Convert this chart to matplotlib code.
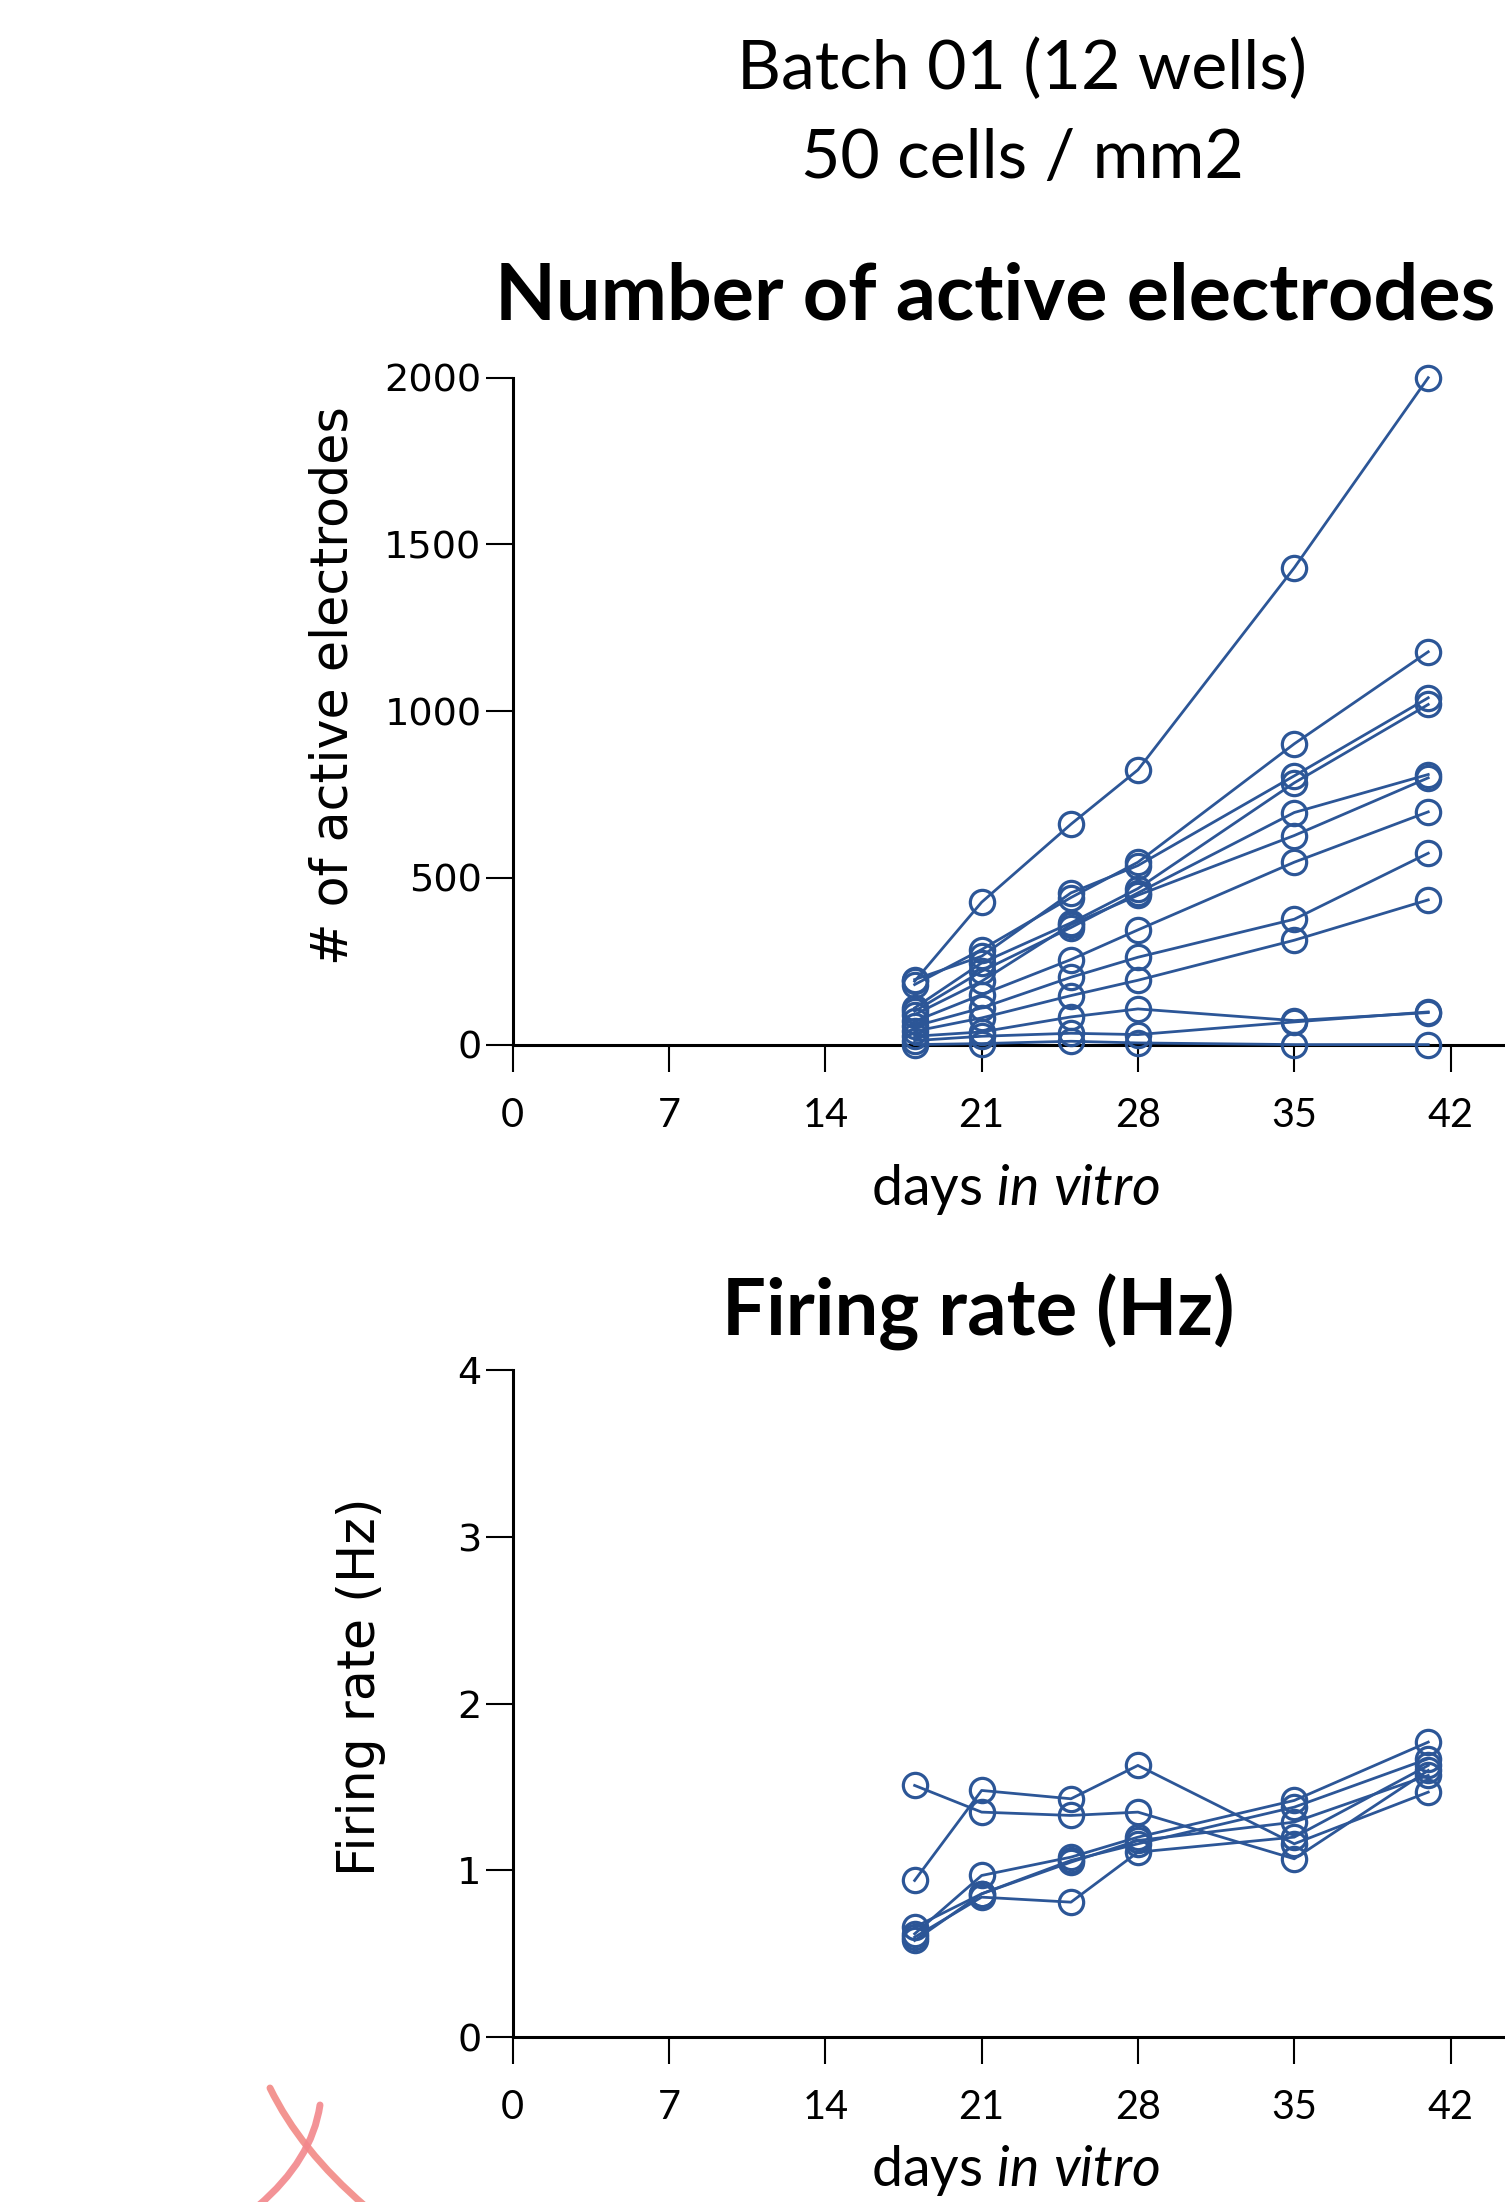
import matplotlib
matplotlib.use('Agg')
import matplotlib.pyplot as plt
from matplotlib.path import Path
from matplotlib.patches import PathPatch

# ---------------- data ----------------
days = [18, 21, 25, 28, 35, 41]
x_ticks = [0, 7, 14, 21, 28, 35, 42]

# number of active electrodes per well
ae_w01 = [190, 427, 661, 824, 1430, 2000]
ae_w02 = [180, 285, 441, 547, 902, 1178]
ae_w03 = [195, 265, 455, 537, 806, 1040]
ae_w04 = [110, 245, 365, 468, 785, 1020]
ae_w05 = [100, 220, 351, 455, 696, 810]
ae_w06 = [90, 190, 360, 448, 627, 800]
ae_w07 = [70, 150, 255, 344, 547, 698]
ae_w08 = [55, 110, 202, 262, 376, 574]
ae_w09 = [40, 80, 147, 193, 313, 434]
ae_w10 = [25, 38, 83, 107, 72, 96]
ae_w11 = [12, 25, 34, 30, 68, 98]
ae_w12 = [0, 3, 10, 5, 0, 0]
ae_yticks = [0, 500, 1000, 1500, 2000]

# firing rate (Hz) per well
fr_a = [1.51, 1.35, 1.33, 1.35, 1.07, 1.60]
fr_b = [0.94, 1.48, 1.43, 1.63, 1.16, 1.47]
fr_c = [0.62, 0.97, 1.08, 1.20, 1.42, 1.77]
fr_d = [0.60, 0.84, 0.81, 1.11, 1.20, 1.63]
fr_e = [0.66, 0.86, 1.06, 1.16, 1.38, 1.67]
fr_f = [0.58, 0.86, 1.05, 1.18, 1.29, 1.57]
fr_yticks = [0, 1, 2, 3, 4]

electrode_series = [ae_w01, ae_w02, ae_w03, ae_w04, ae_w05, ae_w06,
                    ae_w07, ae_w08, ae_w09, ae_w10, ae_w11, ae_w12]
rate_series = [fr_a, fr_b, fr_c, fr_d, fr_e, fr_f]

# ---------------- style ----------------
W, H, DPI = 1505, 2202, 100
BLUE = '#2C5697'
plt.rcParams['mathtext.fontset'] = 'custom'
plt.rcParams['mathtext.rm'] = 'Lato'
plt.rcParams['mathtext.it'] = 'Lato:italic'

fig = plt.figure(figsize=(W / DPI, H / DPI), dpi=DPI)
fig.patch.set_facecolor('white')


def px_to_fig(x, y):
    return x / W, 1 - y / H


x0 = 512.7
px_per_day = 22.33
xmax = 46
ax_left = x0 / W
ax_width = xmax * px_per_day / W


def make_axes(y_bottom_px, y_top_px):
    b = 1 - y_bottom_px / H
    h = (y_bottom_px - y_top_px) / H
    ax = fig.add_axes([ax_left, b, ax_width, h])
    ax.spines['top'].set_visible(False)
    ax.spines['right'].set_visible(False)
    for s in ('left', 'bottom'):
        ax.spines[s].set_linewidth(2.2)
        ax.spines[s].set_color('black')
    ax.tick_params(axis='both', direction='out', length=19.5, width=1.5,
                   color='black')
    ax.tick_params(axis='x', pad=18)
    ax.tick_params(axis='y', pad=3)
    ax.set_xlim(0, xmax)
    ax.set_xticks(x_ticks)
    ax.set_xticklabels([str(t) for t in x_ticks], fontfamily='Lato',
                       fontsize=28.5)
    return ax


def style_yticks(ax, ticks):
    ax.set_yticks(ticks)
    ax.set_yticklabels([str(t) for t in ticks], fontfamily='DejaVu Sans',
                       fontsize=27.5)


# ---- top panel ----
ax1 = make_axes(1044.6, 377.7)
ax1.set_ylim(0, 2000)
style_yticks(ax1, ae_yticks)
for s in electrode_series:
    ax1.plot(days, s, color=BLUE, lw=2.0, marker='o', ms=17.5,
             mfc='none', mec=BLUE, mew=2.3, clip_on=False, zorder=3)

# ---- bottom panel ----
ax2 = make_axes(2037.2, 1370.3)
ax2.set_ylim(0, 4)
style_yticks(ax2, fr_yticks)
for s in rate_series:
    ax2.plot(days, s, color=BLUE, lw=2.0, marker='o', ms=17.5,
             mfc='none', mec=BLUE, mew=2.3, clip_on=False, zorder=3)

# ---- titles and labels ----
fx, fy = px_to_fig(1022, 70)
fig.text(fx, fy, 'Batch 01 (12 wells)', ha='center', va='center',
         fontfamily='Lato', fontsize=49)
fx, fy = px_to_fig(1022, 159)
fig.text(fx, fy, '50 cells / mm2', ha='center', va='center',
         fontfamily='Lato', fontsize=49)

fx, fy = px_to_fig(995, 319)
fig.text(fx, fy, 'Number of active electrodes', ha='center', va='baseline',
         fontfamily='Lato', fontweight='bold', fontsize=57)
fx, fy = px_to_fig(978, 1336)
fig.text(fx, fy, 'Firing rate (Hz)', ha='center', va='baseline',
         fontfamily='Lato', fontweight='bold', fontsize=56)

fx, fy = px_to_fig(334, 686)
fig.text(fx, fy, '# of active electrodes', ha='center', va='center',
         rotation=90, fontfamily='DejaVu Sans', fontsize=36.5)
fx, fy = px_to_fig(361, 1687)
fig.text(fx, fy, 'Firing rate (Hz)', ha='center', va='center',
         rotation=90, fontfamily='DejaVu Sans', fontsize=36.5)

fx, fy = px_to_fig(1015, 1205)
fig.text(fx, fy, r'days $\mathit{in\ vitro}$', ha='center', va='baseline',
         fontfamily='Lato', fontsize=40)
fx, fy = px_to_fig(1015, 2186)
fig.text(fx, fy, r'days $\mathit{in\ vitro}$', ha='center', va='baseline',
         fontfamily='Lato', fontsize=40)

# ---- pink hand-drawn cross annotation (bottom-left) ----
def stroke(p0, pc, p1, color):
    verts = [px_to_fig(*p0), px_to_fig(*pc), px_to_fig(*p1)]
    path = Path(verts, [Path.MOVETO, Path.CURVE3, Path.CURVE3])
    patch = PathPatch(path, transform=fig.transFigure, facecolor='none',
                      edgecolor=color, lw=5, capstyle='round', alpha=0.9)
    fig.patches.append(patch)

stroke((270, 2088), (300, 2150), (365, 2206), '#F28A85')
stroke((320, 2105), (312, 2160), (258, 2206), '#F2878C')

fig.savefig('out.png', dpi=DPI, facecolor='white')
